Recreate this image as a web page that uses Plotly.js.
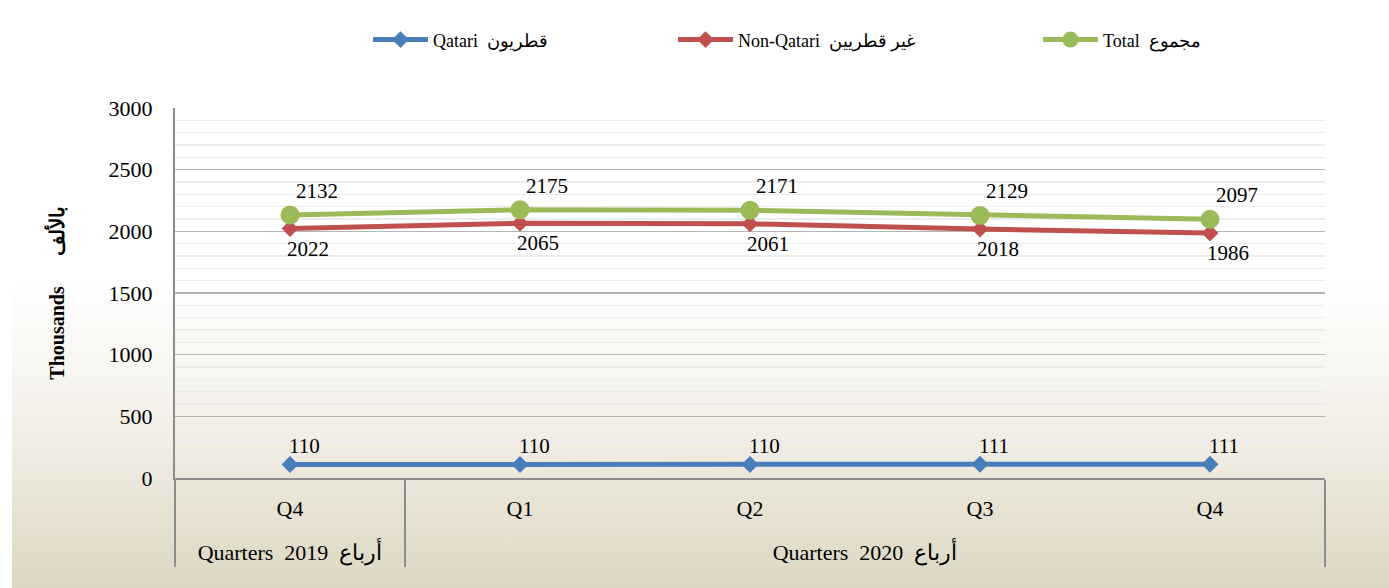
<!DOCTYPE html>
<html>
<head>
<meta charset="utf-8">
<script src="https://cdn.plot.ly/plotly-3.0.1.min.js"></script>
<style>
  html, body { margin: 0; padding: 0; }
  body {
    width: 1389px; height: 588px; overflow: hidden;
    background: linear-gradient(to right, #ffffff 12px, rgba(255,255,255,0) 12px),
                linear-gradient(to bottom, #ffffff 0%, #ffffff 48%, #f3f0e8 72%, #ddd6c2 100%);
  }
  #chart { width: 1389px; height: 588px; }
</style>
</head>
<body>
<div id="chart"></div>
<script>
// ---- data ----
const LAT = '<span style="font-family:Liberation Serif">';
const yearLabel2019 = LAT + 'Quarters\u00a0\u00a02019</span>\u00a0\u00a0أرباع';
const yearLabel2020 = LAT + 'Quarters\u00a0\u00a02020</span>\u00a0\u00a0أرباع';
const years = [yearLabel2019, yearLabel2020, yearLabel2020, yearLabel2020, yearLabel2020];
// the 2020 Q4 label carries a zero-width space so it is a separate inner category from 2019 Q4
const quarters = ['Q4', 'Q1', 'Q2', 'Q3', 'Q4\u200b'];
const qatari = [110, 110, 110, 111, 111];
const nonQatari = [2022, 2065, 2061, 2018, 1986];
const total = [2132, 2175, 2171, 2129, 2097];
const seriesNames = [LAT + 'Qatari</span>\u00a0\u00a0قطريون',
                     LAT + 'Non-Qatari</span>\u00a0\u00a0غير قطريين',
                     LAT + 'Total</span>\u00a0\u00a0مجموع'];
const yTitle = '<b>' + LAT + 'Thousands</span>\u00a0\u00a0\u00a0\u00a0\u00a0\u00a0بالألف</b>';

const FONT = 'Liberation Serif, Times New Roman, DejaVu Serif, serif';
const BLUE = '#4a7ebb', RED = '#c0504d', GREEN = '#9bbb59';

const xcat = [years, quarters.map(q => q + '<br><span style="font-size:16px">\u00a0</span>')];

const traces = [
  { x: xcat, y: qatari, name: seriesNames[0], type: 'scatter', mode: 'lines+markers',
    line: { color: BLUE, width: 5 }, marker: { symbol: 'diamond', size: 13, color: BLUE },
    legend: 'legend', hoverinfo: 'skip' },
  { x: xcat, y: nonQatari, name: seriesNames[1], type: 'scatter', mode: 'lines+markers',
    line: { color: RED, width: 5 }, marker: { symbol: 'diamond', size: 13, color: RED },
    legend: 'legend2', hoverinfo: 'skip' },
  { x: xcat, y: total, name: seriesNames[2], type: 'scatter', mode: 'lines+markers',
    line: { color: GREEN, width: 5 }, marker: { symbol: 'circle', size: 19, color: GREEN },
    legend: 'legend3', hoverinfo: 'skip' }
];

function labels(vals, dx, dy) {
  return vals.map((v, i) => ({
    x: i, y: v, xref: 'x', yref: 'y', text: String(v), showarrow: false,
    xshift: dx, yshift: dy, font: { family: FONT, size: 21, color: '#000' }
  }));
}
const annotations = [].concat(
  labels(qatari, 14, 18),
  labels(nonQatari, 18, -20),
  labels(total, 27, 24)
);

const legendBase = {
  orientation: 'h', yanchor: 'middle', xanchor: 'left', y: 1.184,
  bgcolor: 'rgba(0,0,0,0)', font: { family: FONT, size: 18, color: '#000' },
  itemwidth: 55
};

const layout = {
  width: 1389, height: 588,
  margin: { l: 175, r: 64, t: 108, b: 110 },
  paper_bgcolor: 'rgba(0,0,0,0)',
  plot_bgcolor: 'rgba(0,0,0,0)',
  font: { family: FONT, color: '#000' },
  showlegend: true,
  legend: Object.assign({}, legendBase, { x: (368 - 175) / 1150 }),
  legend2: Object.assign({}, legendBase, { x: (673 - 175) / 1150 }),
  legend3: Object.assign({}, legendBase, { x: (1038 - 175) / 1150 }),
  xaxis: {
    type: 'multicategory',
    range: [-0.5, 4.5],
    showline: true, linecolor: '#8c8c8c', linewidth: 2,
    showgrid: false, zeroline: false,
    showdividers: true, dividercolor: '#8c8c8c', dividerwidth: 2,
    tickfont: { family: FONT, size: 22, color: '#000' },
    ticks: '', ticklabelstandoff: 10
  },
  yaxis: {
    range: [0, 3000], dtick: 500, tick0: 0,
    showline: true, linecolor: '#8c8c8c', linewidth: 2,
    showgrid: true, gridcolor: '#b5b5b5', gridwidth: 1.5,
    zeroline: false,
    minor: { dtick: 100, showgrid: true, gridcolor: '#ececec', gridwidth: 1.5 },
    ticks: '', ticklabelstandoff: 16,
    tickfont: { family: FONT, size: 22, color: '#000' },
    title: { text: yTitle, font: { family: FONT, size: 20, color: '#000' }, standoff: 39 },
    automargin: false
  },
  annotations: annotations
};

Plotly.newPlot('chart', traces, layout, { displayModeBar: false, staticPlot: true });
</script>
</body>
</html>
